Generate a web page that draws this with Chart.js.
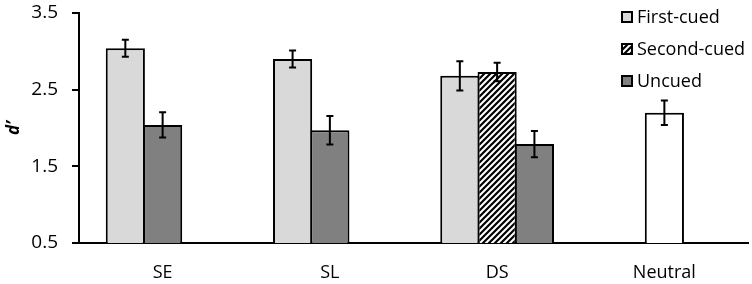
<!DOCTYPE html>
<html>
<head>
<meta charset="utf-8">
<script src="https://cdn.jsdelivr.net/npm/chart.js@4"></script>
<style>
  html, body { margin: 0; padding: 0; background: #fff; }
  #wrap { width: 752px; height: 284px; }
</style>
</head>
<body>
<div id="wrap"><canvas id="chart1" width="752" height="284"></canvas></div>
<script>
"use strict"

// categories and d' values
const categories = ['SE', 'SL', 'DS', 'Neutral']
const firstCued     = [3.04, 2.90, 2.68, null]
const firstCuedErr  = [0.11, 0.11, 0.19, null]
const secondCued    = [null, null, 2.73, null]
const secondCuedErr = [null, null, 0.12, null]
const uncued        = [2.04, 1.97, 1.79, null]
const uncuedErr     = [0.165, 0.185, 0.17, null]
const neutral       = [null, null, null, 2.20]
const neutralErr    = [null, null, null, 0.16]
const yTicks = [0.5, 1.5, 2.5, 3.5]

const FONT = "'Open Sans', sans-serif"

// diagonal hatch for the second-cued bars
function makeHatch(){
    const c = document.createElement('canvas')
    c.width = 6; c.height = 6
    const g = c.getContext('2d')
    g.fillStyle = '#fff'
    g.fillRect(0, 0, 6, 6)
    g.strokeStyle = '#000'
    g.lineWidth = 2.2
    g.beginPath()
    g.moveTo(-3, 3); g.lineTo(3, -3)
    g.moveTo(0, 6); g.lineTo(6, 0)
    g.moveTo(3, 9); g.lineTo(9, 3)
    g.stroke()
    return g.createPattern(c, 'repeat')
}
const hatch = makeHatch()

const conditions = [
    {label: 'First-cued',  data: firstCued,  err: firstCuedErr,  color: '#d9d9d9', legend: true},
    {label: 'Second-cued', data: secondCued, err: secondCuedErr, color: hatch,     legend: true},
    {label: 'Uncued',      data: uncued,     err: uncuedErr,     color: '#808080', legend: true},
    {label: 'Neutral',     data: neutral,    err: neutralErr,    color: '#ffffff', legend: false}
]

// excel packed the bars of each group into three slots, so rebuild that
let slots = [0, 1, 2].map(() => ({data: [], err: [], colors: []}))
for (let i = 0; i < categories.length; i++) {
    let present = conditions.filter(c => c.data[i] != null)
    let start = present.length === 1 ? 1 : 0
    for (let s = 0; s < 3; s++) {
        let c = present[s - start]
        slots[s].data.push(c ? c.data[i] : null)
        slots[s].err.push(c ? c.err[i] : null)
        slots[s].colors.push(c ? c.color : '#fff')
    }
}

const errorBars = {
    id: 'errorBars',
    afterDatasetsDraw(chart){
        const ctx = chart.ctx
        const y = chart.scales.y
        ctx.save()
        ctx.strokeStyle = '#000'
        ctx.lineWidth = 2
        chart.data.datasets.forEach((ds, di) => {
            const meta = chart.getDatasetMeta(di)
            meta.data.forEach((bar, i) => {
                const v = ds.data[i], e = ds.err[i]
                if (v == null || e == null) return
                const top = y.getPixelForValue(v + e)
                const bot = y.getPixelForValue(v - e)
                ctx.beginPath()
                ctx.moveTo(bar.x, top); ctx.lineTo(bar.x, bot)
                ctx.moveTo(bar.x - 3.5, top); ctx.lineTo(bar.x + 3.5, top)
                ctx.moveTo(bar.x - 3.5, bot); ctx.lineTo(bar.x + 3.5, bot)
                ctx.stroke()
            })
        })
        ctx.restore()
    }
}

// legend sits inside the plot, top right, stacked
const boxLegend = {
    id: 'boxLegend',
    afterDraw(chart){
        const ctx = chart.ctx
        ctx.save()
        ctx.font = '18px ' + FONT
        ctx.textBaseline = 'middle'
        ctx.fillStyle = '#000'
        let rowY = [17, 49, 81]
        conditions.filter(c => c.legend).forEach((c, k) => {
            const yy = rowY[k]
            ctx.fillStyle = c.color
            ctx.fillRect(622, yy - 5, 10, 10)
            ctx.strokeStyle = '#000'
            ctx.lineWidth = 2
            ctx.strokeRect(622, yy - 5, 10, 10)
            ctx.fillStyle = '#000'
            ctx.fillText(c.label, 637, yy + 1)
        })
        ctx.restore()
    }
}

const ctx = document.getElementById('chart1')
let myChart = new Chart(ctx, {
    type: 'bar',
    data: {
        labels: categories,
        datasets: slots.map(s => ({
            data: s.data,
            err: s.err,
            backgroundColor: s.colors,
            borderColor: '#000',
            borderWidth: 2,
            inflateAmount: 0,
            barPercentage: 1.05,
            categoryPercentage: 0.669
        }))
    },
    options: {
        responsive: false,
        animation: false,
        layout: {padding: {top: 13, right: 4, left: 0, bottom: 0}},
        plugins: {legend: {display: false}, tooltip: {enabled: false}},
        scales: {
            x: {
                grid: {display: false},
                border: {display: true, color: '#000', width: 2},
                ticks: {color: '#000', font: {family: FONT, size: 18}, padding: 11},
                afterFit(scale){ scale.height = 41; scale.paddingLeft = 0; scale.paddingRight = 0 }
            },
            y: {
                min: yTicks[0],
                max: yTicks[yTicks.length - 1],
                afterBuildTicks(scale){ scale.ticks = yTicks.map(v => ({value: v})) },
                grid: {drawOnChartArea: false, drawTicks: true, tickLength: 7, color: '#000', lineWidth: 2},
                border: {display: true, color: '#000', width: 2},
                ticks: {color: '#000', font: {family: FONT, size: 19}, padding: 14,
                        callback: v => Number(v).toFixed(1)},
                title: {display: true, text: 'd’', color: '#000',
                        font: {family: FONT, size: 17, weight: 'bold', style: 'italic'},
                        padding: {top: 4, bottom: 0}},
                afterFit(scale){ scale.width = 79; scale.paddingTop = 0; scale.paddingBottom = 0 }
            }
        }
    },
    plugins: [errorBars, boxLegend]
})
</script>
</body>
</html>
